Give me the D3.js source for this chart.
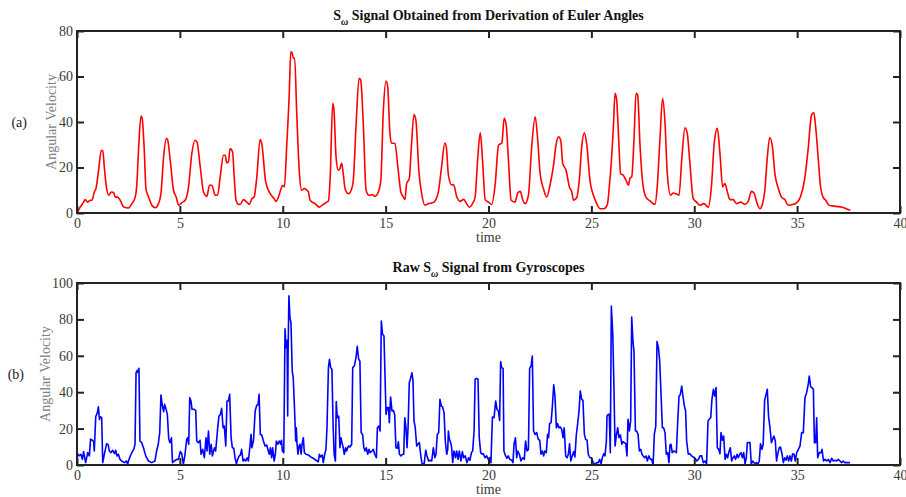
<!DOCTYPE html>
<html>
<head>
<meta charset="utf-8">
<script src="https://cdn.jsdelivr.net/npm/d3@7"></script>
<style>
  body { margin: 0; background: #fff; }
  text { font-family: "Liberation Serif", "DejaVu Serif", serif; }
</style>
</head>
<body>
<div id="chart-area"></div>
<script>
// ticks
var xTicks = [0, 5, 10, 15, 20, 25, 30, 35, 40];
var yTicksA = [0, 20, 40, 60, 80];
var yTicksB = [0, 20, 40, 60, 80, 100];

// (a) S_w from derivation of Euler angles: [time, angular velocity]
var eulerSignal = [
  [0,0],[0.15,2.5],[0.32,4.8],[0.4,5.9],[0.52,4.8],[0.65,5.6],[0.73,5.6],[0.84,9.2],[0.92,10.7],[1.05,18.8],
  [1.18,27.6],[1.25,27.3],[1.34,18.8],[1.42,12],[1.54,7.8],[1.67,9.2],[1.78,9],[1.86,7],[1.97,7],[2.1,5.6],
  [2.27,2.6],[2.5,2.2],[2.67,4.1],[2.83,7],[2.9,11.5],[2.99,27.6],[3.11,42.6],[3.16,42],[3.27,27.6],[3.35,10.7],
  [3.48,7],[3.64,3.4],[3.8,2.3],[3.96,4.1],[4.08,8.5],[4.21,24.7],[4.34,32.7],[4.4,32.3],[4.53,23.2],[4.69,10],
  [4.82,7],[4.94,3.4],[5.1,4.6],[5.26,5.6],[5.42,11.5],[5.58,26.1],[5.74,32],[5.83,31.3],[5.99,20.3],[6.15,9.2],
  [6.31,7.3],[6.44,12.2],[6.55,12.2],[6.72,7.8],[6.83,7.8],[6.96,15.9],[7.12,25.4],[7.2,25.4],[7.28,22],[7.36,22.5],
  [7.44,28.3],[7.56,26.9],[7.65,14.4],[7.73,5.6],[7.85,3.8],[7.93,3.8],[8.09,5.9],[8.25,4.8],[8.38,3.8],[8.5,6.3],
  [8.61,7],[8.74,15.9],[8.9,32.3],[8.98,30.5],[9.17,13.7],[9.39,8.5],[9.58,6.3],[9.68,5.1],[9.79,7],[9.92,10.7],
  [10,12.2],[10.08,11.5],[10.19,29],[10.32,53.3],[10.39,70.9],[10.45,70.5],[10.52,68],[10.58,68],[10.68,43.8],[10.81,17.3],
  [10.92,10],[11.04,10.7],[11.13,10.4],[11.25,9.2],[11.33,5.6],[11.57,4.1],[11.78,2.6],[11.97,3.8],[12.14,4.8],[12.22,5.3],
  [12.3,14.4],[12.43,48.2],[12.49,45.2],[12.59,24.7],[12.7,18.8],[12.78,19.5],[12.86,22],[12.94,17.3],[13.03,10.7],[13.19,8.5],
  [13.35,10.7],[13.43,14.4],[13.56,37.9],[13.71,59.2],[13.79,58.4],[13.92,37.9],[14.05,10],[14.19,7.8],[14.37,8],[14.48,7.3],
  [14.61,8.5],[14.76,13.7],[14.89,45.2],[15.02,58],[15.1,55.5],[15.21,35],[15.29,30.8],[15.45,30.5],[15.61,18.8],[15.74,9.2],
  [15.86,7],[15.94,5.9],[16.02,12.9],[16.15,15.1],[16.26,30.5],[16.38,43.3],[16.47,40.8],[16.62,18],[16.75,8.5],[16.91,3.4],
  [17.07,4.1],[17.23,4.4],[17.35,4.8],[17.56,9.2],[17.72,20.3],[17.88,30.8],[17.95,29],[18.05,16.8],[18.21,12.3],[18.3,12.5],
  [18.46,7],[18.62,5.1],[18.79,6],[18.92,4.4],[19.06,2.6],[19.24,4.4],[19.35,7],[19.47,23.2],[19.6,35.2],[19.71,23.2],
  [19.84,5.9],[20,4.8],[20.16,3.8],[20.32,12.2],[20.49,29.8],[20.65,30.8],[20.76,41.6],[20.86,38.6],[20.97,23.2],[21.1,5.6],
  [21.29,4.8],[21.42,8.8],[21.54,9.5],[21.67,5.6],[21.78,4.1],[21.94,7.8],[22.1,29.1],[22.27,42.3],[22.38,33.5],[22.51,17.3],
  [22.67,10.7],[22.83,7],[22.99,12.2],[23.16,21],[23.28,29.8],[23.4,33.5],[23.51,32],[23.61,21.7],[23.77,18.8],[23.93,11.5],
  [24.05,9.2],[24.13,5.6],[24.29,6.8],[24.42,15.1],[24.53,29.1],[24.66,35.2],[24.77,30.5],[24.94,13.7],[25.1,7.8],[25.26,4.1],
  [25.42,1.9],[25.61,1.9],[25.78,3.8],[25.87,11.5],[25.94,18.8],[26.07,37.9],[26.15,52.6],[26.23,49.6],[26.33,32],[26.42,17.3],
  [26.55,16.6],[26.68,14.4],[26.8,12.2],[26.88,15.4],[26.96,15.9],[27.07,32],[27.17,52.6],[27.25,51.8],[27.36,30.5],[27.49,13.7],
  [27.65,7],[27.85,5.3],[28.09,3.8],[28.2,11.5],[28.33,32],[28.46,50.4],[28.58,39.4],[28.69,17.3],[28.85,7.8],[28.98,8.8],
  [29.11,8.5],[29.26,7.8],[29.39,23.2],[29.55,37.4],[29.66,35],[29.79,21.7],[29.95,6.3],[30.11,4.8],[30.27,3.4],[30.47,4.1],
  [30.68,2.6],[30.84,12.2],[30.97,30.5],[31.12,37.2],[31.25,26.1],[31.38,11.5],[31.49,12.9],[31.6,9.7],[31.73,5.9],[31.89,5.9],
  [32.06,4.1],[32.25,4.8],[32.46,3.8],[32.62,5.1],[32.78,9.5],[32.9,8.8],[33.06,4.1],[33.19,1.9],[33.32,4.1],[33.43,10],
  [33.54,23.2],[33.67,33.2],[33.8,29.1],[33.92,17.3],[34.08,11],[34.24,7],[34.4,5.9],[34.56,3.4],[34.81,3.8],[34.97,4.4],
  [35.16,7],[35.37,15.1],[35.53,27.6],[35.7,43],[35.81,44.2],[35.9,37.9],[36.02,24.7],[36.13,12.2],[36.26,7],[36.39,5.6],
  [36.55,3.4],[36.9,2.9],[37.15,2.6],[37.39,1.9],[37.59,1.2]
];

// (b) raw S_w from gyroscopes: [time, angular velocity]
var gyroSignal = [
  [0,6.8],[0.1,5],[0.19,5.9],[0.26,3.1],[0.32,7.4],[0.42,1.3],[0.52,6.8],[0.6,5],[0.66,14.2],[0.75,13.6],
  [0.81,12.7],[0.84,7.7],[0.91,26.5],[0.99,28.8],[1.04,32],[1.09,25],[1.13,26.5],[1.2,26],[1.25,1.3],[1.33,5.9],
  [1.44,11.7],[1.52,11],[1.57,7.7],[1.65,6.8],[1.73,8.1],[1.82,6.2],[1.88,8.1],[1.94,5],[2.01,5.9],[2.09,3.1],
  [2.17,2.2],[2.3,1.3],[2.41,2.2],[2.46,0.4],[2.53,3.1],[2.61,5.5],[2.69,7.4],[2.76,8.6],[2.82,11.4],[2.87,50.7],
  [2.93,52],[2.97,50.7],[3.01,53.1],[3.06,13.2],[3.14,12.3],[3.23,9.5],[3.34,5],[3.47,2.2],[3.63,1.3],[3.79,2.2],
  [3.87,7.7],[3.95,11.4],[4.02,17.8],[4.08,38.5],[4.15,32.4],[4.21,29.3],[4.26,33.3],[4.33,30.6],[4.39,27.8],[4.46,14.1],
  [4.52,12.3],[4.59,15],[4.64,1.3],[4.73,2.2],[4.85,3.1],[4.93,3.1],[5.02,7.4],[5.09,6.2],[5.17,0.4],[5.25,5.9],
  [5.33,14.1],[5.38,15],[5.43,11.4],[5.48,37],[5.54,35.2],[5.59,30.6],[5.67,30.6],[5.77,30],[5.82,13.2],[5.9,12.3],
  [5.98,13.6],[6.03,5.9],[6.11,8.6],[6.19,4],[6.27,15],[6.32,7.7],[6.39,18.7],[6.45,5.9],[6.52,11.4],[6.58,5],
  [6.68,9.5],[6.74,7.7],[6.84,20.5],[6.9,26.9],[6.97,27.8],[7.03,31.1],[7.1,20.5],[7.16,21.4],[7.23,10.4],[7.29,35.2],
  [7.36,35.2],[7.42,38.8],[7.49,15],[7.55,9.5],[7.62,9.2],[7.68,4],[7.75,0.7],[7.81,3.1],[7.88,5],[7.94,5.5],
  [8,8.6],[8.07,2.2],[8.14,3.1],[8.2,2.2],[8.27,4],[8.33,2.2],[8.4,9.5],[8.46,16.8],[8.5,9.5],[8.58,13.6],
  [8.66,29.7],[8.74,33],[8.8,33],[8.85,38.8],[8.91,16.8],[8.98,16.5],[9.06,13.2],[9.14,10.4],[9.22,11],[9.3,7.7],
  [9.35,5.9],[9.4,9.5],[9.46,4],[9.51,9.5],[9.58,2.2],[9.64,5.9],[9.69,13.2],[9.76,11.4],[9.84,13.2],[9.9,11.4],
  [9.94,13.6],[9.98,7.7],[10.05,6.8],[10.11,74.9],[10.16,64.5],[10.21,68.5],[10.24,26.9],[10.26,62.6],[10.3,92.9],[10.35,81],
  [10.4,78.2],[10.46,51.6],[10.51,48],[10.57,31.5],[10.63,13.2],[10.66,20.5],[10.69,12.3],[10.74,5.9],[10.79,10.4],[10.84,11.4],
  [10.89,5.9],[10.94,11.4],[11,15],[11.05,6.8],[11.13,5.9],[11.24,5.5],[11.36,4.4],[11.48,3.7],[11.62,2.6],[11.73,1.8],
  [11.78,5.9],[11.84,4.4],[11.92,5.5],[11.97,1.3],[12.04,5.9],[12.1,8.6],[12.15,20.5],[12.22,53.5],[12.27,58.1],[12.33,53.5],
  [12.39,52.6],[12.45,20.5],[12.5,5.9],[12.56,2.2],[12.6,34.8],[12.65,26],[12.72,26.9],[12.78,9.5],[12.83,15],[12.88,12.3],
  [12.94,9.5],[12.99,5.9],[13.06,9.5],[13.1,7.7],[13.19,10.4],[13.27,9.9],[13.35,11.4],[13.4,53.5],[13.48,54.4],[13.56,59],
  [13.62,65.2],[13.69,58.1],[13.75,57.1],[13.81,17.8],[13.88,16.8],[13.94,9.5],[14,7.7],[14.06,9.5],[14.13,5.9],[14.19,8.6],
  [14.25,6.8],[14.34,7.7],[14.4,8.6],[14.47,5.9],[14.55,4],[14.6,20.5],[14.67,21.4],[14.73,18.7],[14.79,79.1],[14.85,71.8],
  [14.92,70.9],[14.99,40.7],[15.02,27.8],[15.08,31.5],[15.14,31.5],[15.18,23.3],[15.24,37.4],[15.31,29.7],[15.38,30],[15.44,27.8],
  [15.5,9.5],[15.57,9.2],[15.62,12.8],[15.67,5.9],[15.75,5],[15.83,5.9],[15.88,5.9],[15.93,26],[15.99,20.5],[16.04,9.5],
  [16.09,20.5],[16.15,45.2],[16.2,47.1],[16.28,50.7],[16.33,46.2],[16.38,24.2],[16.44,20.5],[16.51,10.4],[16.57,11.4],[16.64,12.3],
  [16.7,5.9],[16.77,0.7],[16.87,0.4],[16.95,8.1],[17.01,5],[17.09,2.2],[17.16,2.6],[17.24,2.2],[17.32,9.5],[17.39,4],
  [17.45,5.9],[17.51,16.8],[17.58,17.8],[17.64,36.1],[17.71,32.4],[17.77,31.9],[17.84,28.8],[17.9,13.2],[17.97,5.9],[18.02,8.6],
  [18.05,18.7],[18.1,14.1],[18.16,12.3],[18.21,9.5],[18.26,1.3],[18.32,7.7],[18.4,4],[18.45,7.7],[18.52,3.1],[18.58,7.7],
  [18.66,2.2],[18.73,7.4],[18.79,4],[18.87,5],[18.95,1.3],[19.03,4],[19.1,2.6],[19.17,6.8],[19.23,7.7],[19.3,18.7],
  [19.35,47.1],[19.42,47.6],[19.49,47.1],[19.55,15],[19.62,6.8],[19.69,5.9],[19.75,6.2],[19.83,4],[19.91,5],[19.99,3.1],
  [20.06,4],[20.12,1.3],[20.19,26.4],[20.27,26],[20.35,35.2],[20.41,30.6],[20.48,29.7],[20.54,24.5],[20.59,56.8],[20.64,53.5],
  [20.71,53.1],[20.75,7.7],[20.83,5],[20.9,3.7],[20.96,5],[21.04,3.1],[21.13,2.6],[21.19,1.3],[21.24,11.4],[21.31,15],
  [21.37,4],[21.42,7.7],[21.5,5.9],[21.58,2.2],[21.66,4],[21.74,3.1],[21.8,13.2],[21.87,7.7],[21.94,8.6],[22,53.1],
  [22.07,54.4],[22.13,59.9],[22.19,18.7],[22.26,16.8],[22.34,17.8],[22.42,14.1],[22.49,13.6],[22.55,5.9],[22.62,7.7],[22.68,5],
  [22.74,7.7],[22.81,6.8],[22.87,16.8],[22.92,15],[22.97,22.7],[23.04,23.3],[23.1,31.5],[23.17,44],[23.23,37.9],[23.3,20.5],
  [23.36,22.7],[23.42,20.5],[23.49,20.9],[23.56,19.6],[23.62,15],[23.68,20.5],[23.75,5],[23.82,4],[23.88,5.9],[23.94,11.7],
  [24,2.2],[24.07,5],[24.14,7.4],[24.2,4.4],[24.27,16.8],[24.33,22.3],[24.4,29.7],[24.46,40.7],[24.53,36.1],[24.59,35.5],
  [24.66,16.8],[24.72,14.1],[24.79,13.6],[24.85,5.9],[24.93,4],[25.01,4],[25.09,1.3],[25.18,0.4],[25.26,1.3],[25.34,1.3],
  [25.4,3.1],[25.47,0.7],[25.53,4],[25.6,6.2],[25.66,5],[25.73,13.2],[25.76,26.9],[25.82,27.8],[25.87,27.8],[25.92,6.8],
  [25.97,87.4],[26.04,71.8],[26.09,46.2],[26.15,10.4],[26.21,15.9],[26.28,20.5],[26.34,15],[26.41,16.5],[26.48,11.4],[26.54,12.8],
  [26.6,12.3],[26.67,11.7],[26.73,5],[26.78,25.1],[26.85,18.7],[26.91,24.5],[26.96,81.3],[27.02,68.1],[27.07,62.6],[27.14,18.7],
  [27.2,18.7],[27.27,16.8],[27.33,7.7],[27.4,8.6],[27.46,5.9],[27.52,5],[27.59,4],[27.66,5],[27.72,2.2],[27.79,5],
  [27.87,3.1],[27.93,3.1],[28,0],[28.06,16.8],[28.13,21.4],[28.19,67.8],[28.26,64.5],[28.32,57.1],[28.38,40.7],[28.45,20.5],
  [28.51,20.5],[28.58,17.8],[28.64,5.9],[28.71,6.8],[28.77,1.3],[28.82,11],[28.87,11.4],[28.93,6.8],[29,7.7],[29.06,7.4],
  [29.13,6.8],[29.19,22.3],[29.26,37.9],[29.32,38.5],[29.39,43.4],[29.45,37.9],[29.52,32.4],[29.58,29.7],[29.63,13.2],[29.71,5.9],
  [29.79,6.2],[29.87,5],[29.95,4.4],[30.02,4],[30.12,2.2],[30.2,3.1],[30.28,5],[30.36,5],[30.44,1.3],[30.52,2.2],
  [30.6,0.7],[30.67,24.2],[30.73,25.1],[30.8,26],[30.86,36.1],[30.93,41.6],[30.99,37.9],[31.06,42.5],[31.12,9.5],[31.19,8.6],
  [31.25,6.2],[31.3,17.8],[31.37,13.6],[31.43,15.9],[31.5,3.1],[31.56,5.9],[31.62,4],[31.69,7.4],[31.75,9.5],[31.82,2.2],
  [31.88,4],[31.95,5],[32.01,3.1],[32.08,5.9],[32.14,4],[32.21,5.9],[32.27,6.8],[32.34,4],[32.4,6.8],[32.47,0.7],
  [32.53,4],[32.58,12.3],[32.65,12.3],[32.71,12.3],[32.77,0.4],[32.84,2.2],[32.9,1.3],[32.97,0.7],[33.03,1.3],[33.09,0.4],
  [33.16,2.2],[33.22,11.7],[33.29,8.6],[33.35,11.4],[33.42,35.5],[33.49,38.8],[33.55,41.6],[33.61,26.9],[33.68,20.5],[33.75,12.3],
  [33.81,14.1],[33.87,15.9],[33.94,13.2],[34,2.2],[34.07,6.8],[34.13,9.5],[34.19,9.9],[34.27,5.9],[34.33,1.3],[34.4,4],
  [34.46,2.6],[34.52,5],[34.59,2.2],[34.65,5],[34.72,2.2],[34.78,6.2],[34.85,5.9],[34.91,2.2],[34.98,6.8],[35.06,8.6],
  [35.14,10.4],[35.22,17.8],[35.3,17.8],[35.38,37],[35.46,39.7],[35.54,44.3],[35.59,48.9],[35.66,42.9],[35.72,42.5],[35.79,41.6],
  [35.84,12.3],[35.9,12.3],[35.95,26],[36,4],[36.08,6.8],[36.16,6.8],[36.21,8.6],[36.28,2.2],[36.36,3.1],[36.44,2.2],
  [36.52,3.1],[36.6,1.3],[36.68,3.7],[36.76,2.2],[36.84,2.6],[36.92,2.2],[37,3.1],[37.08,2.2],[37.16,1.3],[37.24,2.2],
  [37.32,1.3],[37.4,1.3],[37.49,1.3],[37.57,1.3]
];

var width = 906;
var height = 497;

var svg = d3.select("#chart-area").append("svg")
    .attr("width", width)
    .attr("height", height);

var left = 77, right = 900;

var x = d3.scaleLinear().domain([0, 40]).range([left, right]);

function drawPanel(opts) {
    var y = d3.scaleLinear()
        .domain([0, opts.yMax])
        .range([opts.bottom, opts.top]);

    var g = svg.append("g");

    // data line
    var line = d3.line()
        .x((d) => { return x(d[0]); })
        .y((d) => { return y(d[1]); })
        .curve(opts.curve);

    g.append("path")
        .datum(opts.data)
        .attr("fill", "none")
        .attr("stroke", opts.color)
        .attr("stroke-width", 1.6)
        .attr("stroke-linejoin", "round")
        .attr("d", line);

    // axes, ticks pointing inwards on all four sides
    var bottomAxis = d3.axisBottom(x).tickValues(xTicks).tickSize(-7).tickPadding(5).tickFormat(d3.format("d"));
    var topAxis = d3.axisTop(x).tickValues(xTicks).tickSize(-7).tickFormat("");
    var leftAxis = d3.axisLeft(y).tickValues(opts.yTicks).tickSize(-7).tickPadding(4);
    var rightAxis = d3.axisRight(y).tickValues(opts.yTicks).tickSize(-7).tickFormat("");

    g.append("g").attr("class", "axis").attr("transform", "translate(0," + opts.bottom + ")").call(bottomAxis);
    g.append("g").attr("class", "axis").attr("transform", "translate(0," + opts.top + ")").call(topAxis);
    g.append("g").attr("class", "axis").attr("transform", "translate(" + left + ",0)").call(leftAxis);
    g.append("g").attr("class", "axis").attr("transform", "translate(" + right + ",0)").call(rightAxis);

    g.selectAll(".axis .domain").remove();
    g.selectAll(".axis line").attr("stroke", "#222").attr("stroke-width", 2);
    g.selectAll(".axis text")
        .attr("font-family", "Liberation Serif")
        .attr("font-size", "14px")
        .attr("fill", "#3a3a3a");

    // frame
    g.append("rect")
        .attr("x", left)
        .attr("y", opts.top)
        .attr("width", right - left)
        .attr("height", opts.bottom - opts.top)
        .attr("fill", "none")
        .attr("stroke", "#222")
        .attr("stroke-width", 2);

    // title with subscript omega
    var title = g.append("text")
        .attr("x", (left + right) / 2)
        .attr("y", opts.top - 11)
        .attr("text-anchor", "middle")
        .attr("font-size", "14px")
        .attr("font-weight", "bold")
        .attr("fill", "#111");
    title.append("tspan").text(opts.titlePre + "S");
    title.append("tspan").attr("dy", 5).attr("font-size", "10px").attr("font-style", "italic").text("\u03c9");
    title.append("tspan").attr("dy", -5).text(" " + opts.titlePost);

    // X label
    g.append("text")
        .attr("x", (left + right) / 2)
        .attr("y", opts.bottom + 29)
        .attr("text-anchor", "middle")
        .attr("font-size", "14px")
        .attr("fill", "#3a3a3a")
        .text("time");

    // Y label
    g.append("text")
        .attr("transform", "translate(" + opts.labelX + "," + ((opts.top + opts.bottom) / 2) + ") rotate(-90)")
        .attr("text-anchor", "middle")
        .attr("font-size", "14px")
        .attr("fill", "#808080")
        .text("Angular Velocity");

    // panel tag
    g.append("text")
        .attr("x", opts.tagX)
        .attr("y", (opts.top + opts.bottom) / 2 + 5)
        .attr("text-anchor", "end")
        .attr("font-size", "14px")
        .attr("fill", "#222")
        .text(opts.tag);
}

drawPanel({
    top: 31, bottom: 213, yMax: 80, yTicks: yTicksA,
    data: eulerSignal, color: "#ff0000", curve: d3.curveMonotoneX,
    titlePre: "", titlePost: "Signal Obtained from Derivation of Euler Angles",
    labelX: 56, tag: "(a)", tagX: 27
});

drawPanel({
    top: 283, bottom: 465, yMax: 100, yTicks: yTicksB,
    data: gyroSignal, color: "#0000ff", curve: d3.curveLinear,
    titlePre: "Raw ", titlePost: "Signal from Gyroscopes",
    labelX: 50, tag: "(b)", tagX: 24
});
</script>
</body>
</html>
